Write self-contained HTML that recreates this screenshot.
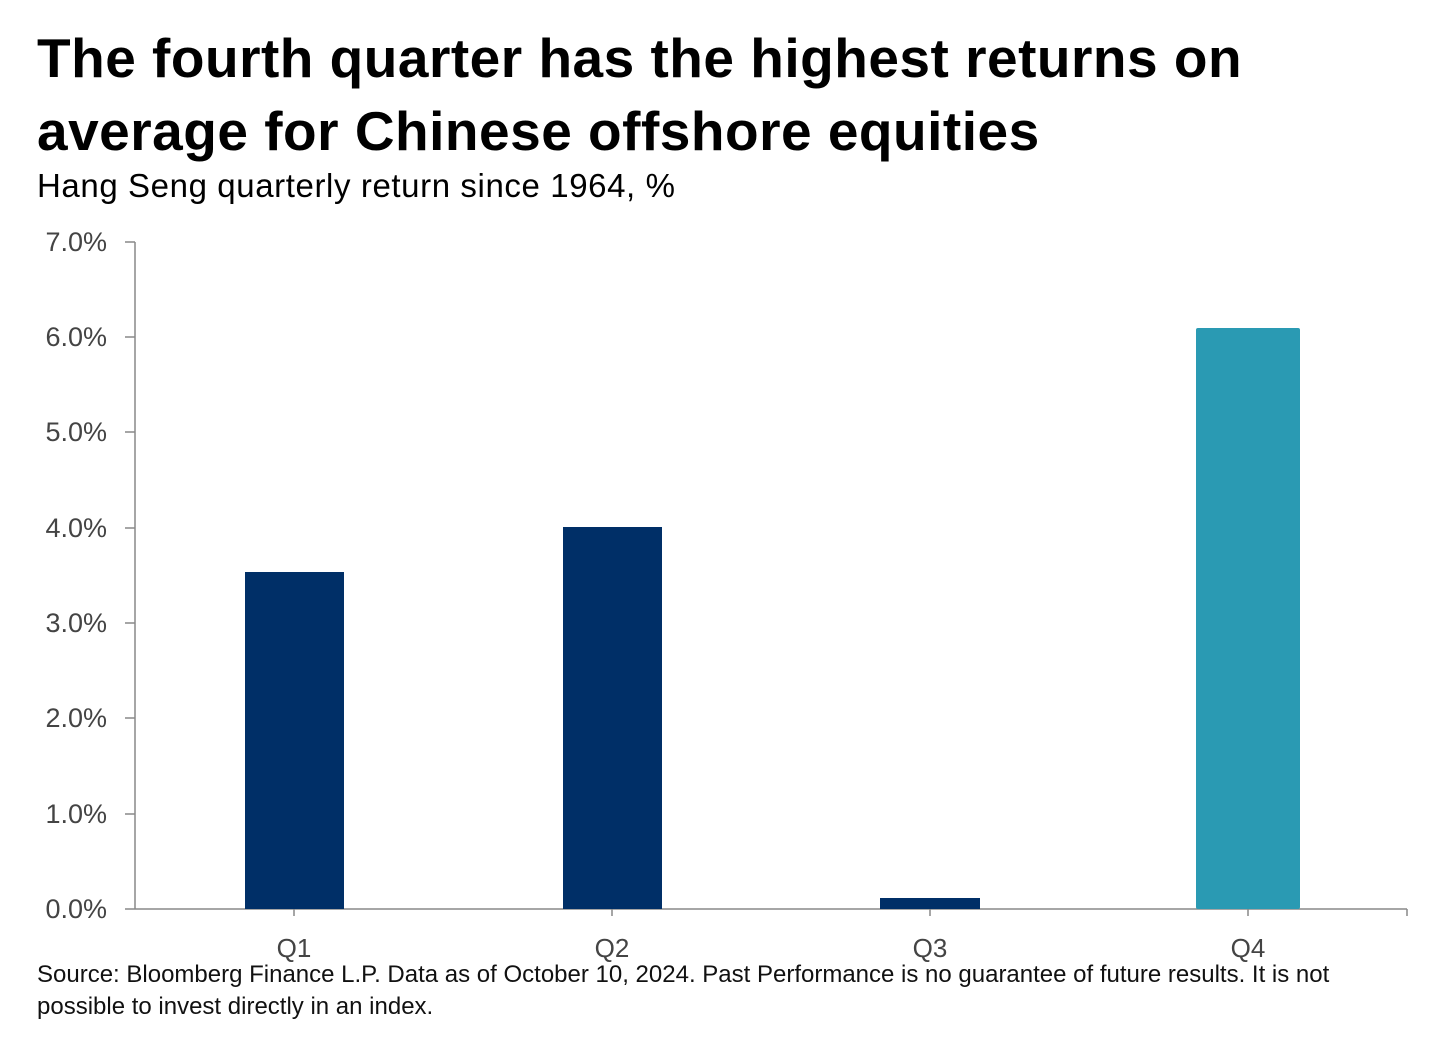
<!DOCTYPE html>
<html><head><meta charset="utf-8"><style>
body{margin:0;background:#fff;width:1440px;height:1038px;overflow:hidden;font-family:"Liberation Sans",sans-serif;}
.t{position:absolute;left:37px;top:22px;font-size:55px;font-weight:bold;line-height:73px;color:#000;letter-spacing:0.5px;white-space:nowrap;}
.s{position:absolute;left:37px;top:167px;font-size:33px;color:#000;letter-spacing:0.6px;white-space:nowrap;}
.f{position:absolute;left:37px;top:959px;font-size:24px;line-height:32px;color:#111;white-space:nowrap;}
</style></head><body>
<div class="t">The fourth quarter has the highest returns on<br>average for Chinese offshore equities</div>
<div class="s">Hang Seng quarterly return since 1964, %</div>
<svg width="1440" height="1038" style="position:absolute;left:0;top:0" font-family="Liberation Sans, sans-serif">
<g stroke="#888" stroke-width="1.5">
<line x1="135" y1="242" x2="135" y2="909"/>
<line x1="125" y1="909" x2="1407" y2="909"/>
<line x1="125" y1="242" x2="135" y2="242"/>
<line x1="125" y1="337" x2="135" y2="337"/>
<line x1="125" y1="432" x2="135" y2="432"/>
<line x1="125" y1="528" x2="135" y2="528"/>
<line x1="125" y1="623" x2="135" y2="623"/>
<line x1="125" y1="718" x2="135" y2="718"/>
<line x1="125" y1="814" x2="135" y2="814"/>
<line x1="294" y1="909" x2="294" y2="916"/>
<line x1="612" y1="909" x2="612" y2="916"/>
<line x1="930" y1="909" x2="930" y2="916"/>
<line x1="1248" y1="909" x2="1248" y2="916"/>
<line x1="1407" y1="909" x2="1407" y2="916"/>
</g>
<g font-size="27" fill="#444" text-anchor="end">
<text x="107" y="251">7.0%</text><text x="107" y="346">6.0%</text><text x="107" y="441">5.0%</text>
<text x="107" y="537">4.0%</text><text x="107" y="632">3.0%</text><text x="107" y="727">2.0%</text>
<text x="107" y="823">1.0%</text><text x="107" y="918">0.0%</text>
</g>
<g font-size="26" fill="#444" text-anchor="middle">
<text x="294" y="957">Q1</text><text x="612" y="957">Q2</text><text x="930" y="957">Q3</text><text x="1248" y="957">Q4</text>
</g>
<rect x="245" y="572" width="99" height="337" fill="#002f67"/>
<rect x="563" y="527" width="99" height="382" fill="#002f67"/>
<rect x="880" y="898" width="100" height="11" fill="#002f67"/>
<rect x="1196" y="328" width="104" height="581" rx="2" fill="#2a9ab3"/>
</svg>
<div class="f">Source: Bloomberg Finance L.P. Data as of October 10, 2024. Past Performance is no guarantee of future results. It is not<br>possible to invest directly in an index.</div>
</body></html>
